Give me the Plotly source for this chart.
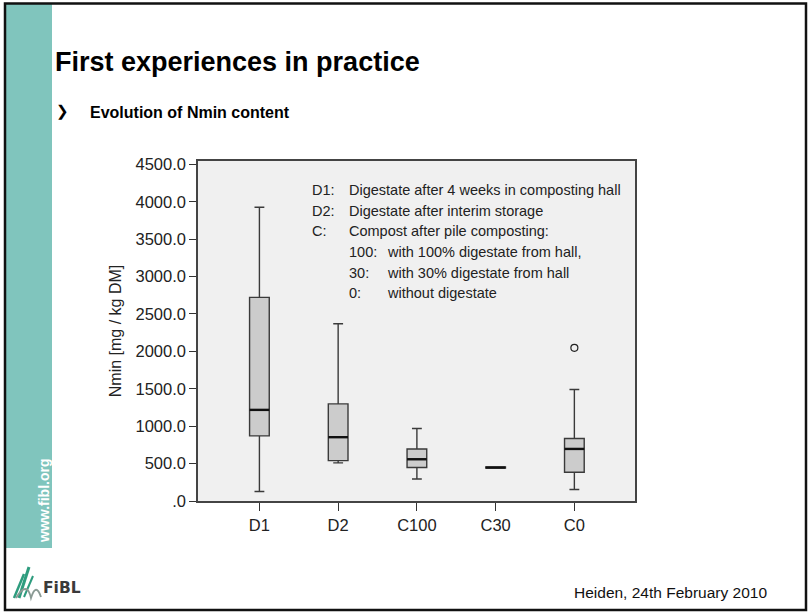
import plotly.graph_objects as go

# ---- data ----
categories = ["D1", "D2", "C100", "C30", "C0"]
lower_whisker = [126, 509, 295, 440, 153]
q1_values = [870, 540, 447, 440, 384]
median_values = [1218, 853, 558, 447, 696]
q3_values = [2722, 1298, 696, 455, 835]
upper_whisker = [3927, 2369, 969, 455, 1491]
outlier_cat = [4]
outlier_values = [2048]
y_tickvals = [0, 500, 1000, 1500, 2000, 2500, 3000, 3500, 4000, 4500]
y_ticktext = [".0", "500.0", "1000.0", "1500.0", "2000.0", "2500.0",
              "3000.0", "3500.0", "4000.0", "4500.0"]

W, H = 809, 613
PL, PR, PT, PB = 198, 635, 161, 501  # plot area in pixels
FONT = "Liberation Sans, Arial, Helvetica, sans-serif"


def px(x):
    return (x - PL) / (PR - PL)


def py(y):
    return (PB - y) / (PB - PT)


xpos = list(range(len(categories)))
BW = 0.25

fig = go.Figure()
fig.add_trace(go.Box(
    x=xpos, q1=q1_values, median=median_values, q3=q3_values,
    lowerfence=lower_whisker, upperfence=upper_whisker,
    width=BW, whiskerwidth=0.5, boxpoints=False,
    fillcolor="#cccccc", line=dict(color="#3a3a3a", width=1.4),
    showlegend=False, hoverinfo="skip"))

# thicker median bars
for i, m in zip(xpos, median_values):
    fig.add_trace(go.Scatter(x=[i - BW / 2, i + BW / 2], y=[m, m], mode="lines",
                             line=dict(color="#111111", width=2.4),
                             showlegend=False, hoverinfo="skip"))

fig.add_trace(go.Scatter(x=outlier_cat, y=outlier_values, mode="markers",
                         marker=dict(symbol="circle-open", size=7,
                                     color="#222222", line=dict(width=1.2)),
                         showlegend=False, hoverinfo="skip"))

shapes = [
    # teal stripe
    dict(type="rect", xref="paper", yref="paper", x0=px(6), x1=px(52),
         y0=py(4), y1=py(548), fillcolor="#80c5bd", line=dict(width=0), layer="below"),
    # slide border
    dict(type="rect", xref="paper", yref="paper", x0=px(5), x1=px(806),
         y0=py(3.5), y1=py(610), line=dict(color="#111111", width=2.5)),
]
# FiBL logo strokes (stylised)
logo_strokes = [
    ((14, 598), (24, 574), "#2e9c7e", 2.5),
    ((19, 598), (29, 567), "#2e9c7e", 3),
    ((24, 597), (33, 576), "#2e9c7e", 2),
]
for (x0, y0), (x1, y1), col, w in logo_strokes:
    shapes.append(dict(type="path", xref="paper", yref="paper",
                       path="M {0},{1} L {2},{3}".format(px(x0), py(y0), px(x1), py(y1)),
                       line=dict(color=col, width=w)))
shapes.append(dict(type="path", xref="paper", yref="paper",
                   path="M {0},{1} Q {2},{3} {4},{5} Q {6},{7} {8},{9}".format(
                       px(16), py(598), px(27), py(580), px(31), py(598),
                       px(36), py(582), px(41), py(597)),
                   line=dict(color="#8a9a94", width=1.8)))


def ann(text, x, y, size, color="#222222", xanchor="left", angle=0, bold=False,
        family=FONT):
    return dict(text=("<b>%s</b>" % text) if bold else text,
                xref="paper", yref="paper", x=px(x), y=py(y),
                xanchor=xanchor, yanchor="middle", showarrow=False, textangle=angle,
                font=dict(family=family, size=size, color=color))


annotations = [
    ann("First experiences in practice", 53, 62, 27, "#000000", bold=True),
    ann("❯", 54, 111, 15, "#000000", family="DejaVu Sans"),
    ann("Evolution of Nmin content", 88, 112, 16, "#000000", bold=True),
    ann("www.fibl.org", 44, 501, 14, "#ffffff", xanchor="center", angle=-90, bold=True),
    ann("FiBL", 41, 588, 15.5, "#3a3a3a", bold=True, family="DejaVu Sans"),
    ann("Heiden, 24th February 2010", 769, 592, 15.5, "#111111", xanchor="right"),
]

legend_rows = [
    ("D1:", "Digestate after 4 weeks in composting hall", None),
    ("D2:", "Digestate after interim storage", None),
    ("C:", "Compost after pile composting:", None),
    (None, "100:", "with 100% digestate from hall,"),
    (None, "30:", "with 30% digestate from hall"),
    (None, "0:", "without digestate"),
]
row_y = [190, 210.5, 231, 251.5, 272.5, 293]
for (a, b, c), yy in zip(legend_rows, row_y):
    for txt, xx in ((a, 310), (b, 347), (c, 385)):
        if txt:
            annotations.append(ann(txt, xx, yy, 14.5))

fig.update_layout(
    width=W, height=H,
    margin=dict(l=PL, r=W - PR, t=PT, b=H - PB),
    paper_bgcolor="#ffffff", plot_bgcolor="#f0f0f0",
    font=dict(family=FONT, color="#222222"),
    shapes=shapes, annotations=annotations,
    showlegend=False,
)
fig.update_xaxes(range=[-0.78, 4.77], tickvals=xpos, ticktext=categories,
                 ticks="outside", ticklen=8, tickcolor="#333333", tickwidth=1.2,
                 showline=True, mirror=True, linecolor="#444444", linewidth=1.5,
                 showgrid=False, zeroline=False,
                 tickfont=dict(family=FONT, size=16.5, color="#222222"))
fig.update_yaxes(range=[0, 4545], tickvals=y_tickvals, ticktext=y_ticktext,
                 ticks="outside", ticklen=7, tickcolor="#333333", tickwidth=1.2,
                 showline=True, mirror=True, linecolor="#444444", linewidth=1.5,
                 showgrid=False, zeroline=False,
                 tickfont=dict(family=FONT, size=16.5, color="#222222"),
                 title=dict(text="Nmin [mg / kg DM]", standoff=10,
                            font=dict(family=FONT, size=16, color="#222222")))

fig.write_html("out.html", config={"displayModeBar": False},
               post_script="document.body.style.margin='0px';")
